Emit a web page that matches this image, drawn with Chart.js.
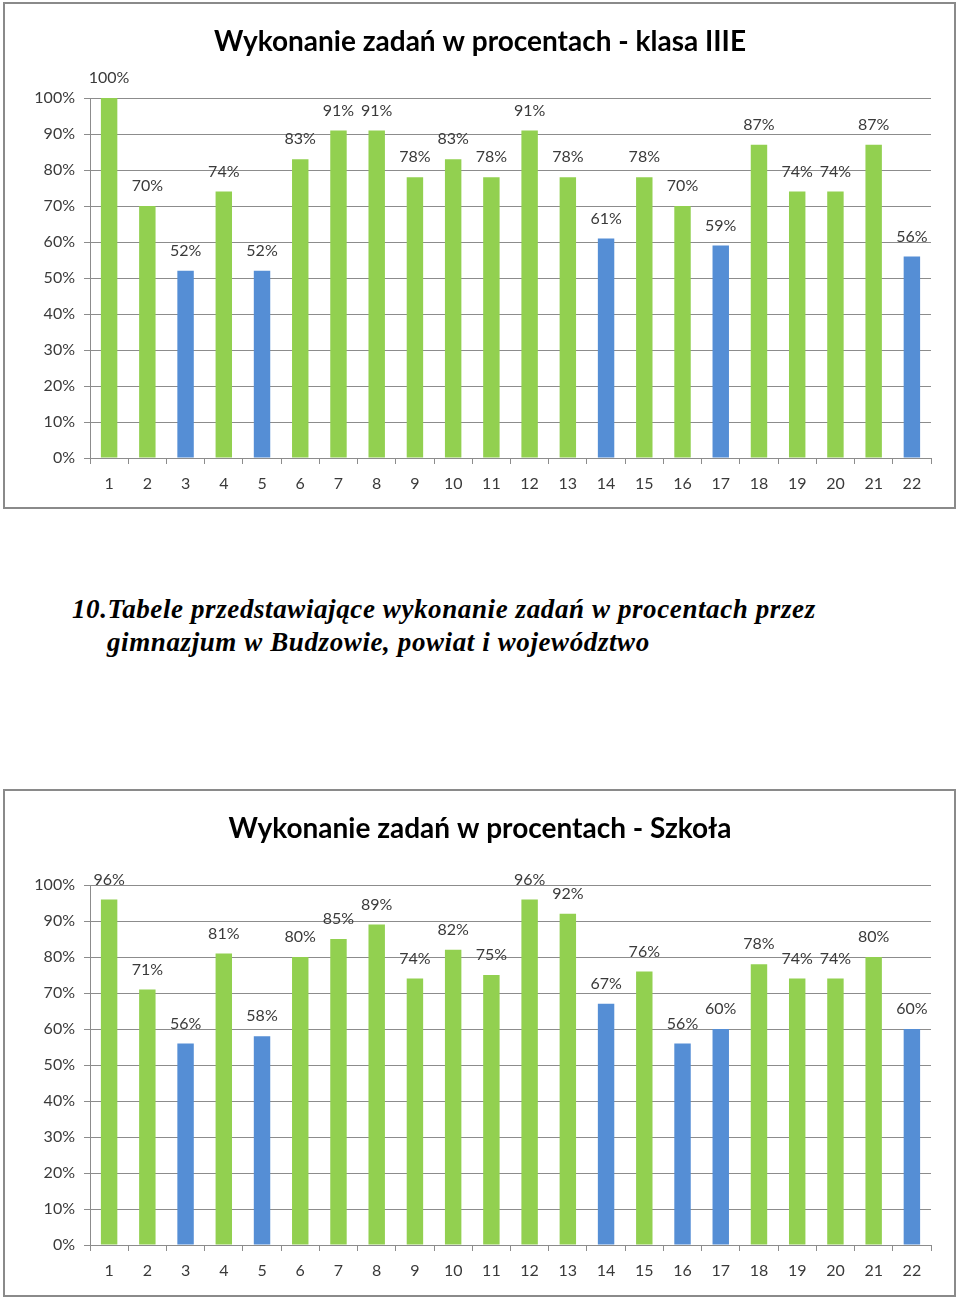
<!DOCTYPE html>
<html>
<head>
<meta charset="utf-8">
<script src="https://cdn.jsdelivr.net/npm/chart.js@4.4.1/dist/chart.umd.min.js"></script>
<style>
  html, body { margin: 0; padding: 0; background: #fff; width: 960px; height: 1297px; overflow: hidden; position: relative; }
  .box { position: absolute; box-sizing: border-box; border: 2px solid #8a8a8a; background: #fff; }
  canvas { position: absolute; left: 0; }
  .heading { position: absolute; left: 107px; top: 593px; width: 840px; font-family: "Liberation Serif", "Times New Roman", serif; font-weight: bold; font-style: italic; font-size: 27px; line-height: 33px; letter-spacing: 0.6px; color: #000; text-indent: -35px; white-space: nowrap; }
</style>
</head>
<body>
<div class="box" style="left:3px;top:2px;width:953px;height:507px;"></div>
<div class="box" style="left:3px;top:789px;width:953px;height:508px;"></div>
<canvas id="c1" width="960" height="510" style="top:0px;"></canvas>
<div class="heading">10.Tabele przedstawiające wykonanie zadań w procentach przez<br>gimnazjum w Budzowie, powiat i województwo</div>
<canvas id="c2" width="960" height="510" style="top:787px;"></canvas>
<script>
const categories = ["1","2","3","4","5","6","7","8","9","10","11","12","13","14","15","16","17","18","19","20","21","22"];
const valuesKlasa = [100,70,52,74,52,83,91,91,78,83,78,91,78,61,78,70,59,87,74,74,87,56];
const blueKlasa = [3,5,14,17,22];
const valuesSzkola = [96,71,56,81,58,80,85,89,74,82,75,96,92,67,76,56,60,78,74,74,80,60];
const blueSzkola = [3,5,14,16,17,22];
const yTicks = [0,10,20,30,40,50,60,70,80,90,100];
const titleKlasa = "Wykonanie zadań w procentach - klasa IIIE";
const titleSzkola = "Wykonanie zadań w procentach - Szkoła";

const GREEN = "#92D050";
const BLUE = "#558ED5";
const GRID = "#8c8c8c";
const TEXT = "#3a3a3a";
const FONT = "Lato, 'Open Sans', sans-serif";

const labelPlugin = {
  id: "barLabels",
  afterDatasetsDraw(chart) {
    const ctx = chart.ctx;
    const meta = chart.getDatasetMeta(0);
    const data = chart.data.datasets[0].data;
    ctx.save();
    ctx.font = "16px " + FONT;
    ctx.fillStyle = TEXT;
    ctx.textAlign = "center";
    ctx.textBaseline = "middle";
    meta.data.forEach((bar, i) => {
      ctx.fillText(data[i] + "%", bar.x, bar.y - 20);
    });
    ctx.restore();
  }
};

function makeChart(id, values, blues, title) {
  const colors = categories.map((c, i) => blues.includes(i + 1) ? BLUE : GREEN);
  return new Chart(document.getElementById(id), {
    type: "bar",
    data: {
      labels: categories,
      datasets: [{ data: values, backgroundColor: colors, borderWidth: 0, barPercentage: 0.43, categoryPercentage: 1.0 }]
    },
    plugins: [labelPlugin],
    options: {
      responsive: false,
      animation: false,
      devicePixelRatio: 1,
      layout: { padding: { left: 29, right: 29, top: 0, bottom: 0 } },
      plugins: {
        legend: { display: false },
        tooltip: { enabled: false },
        title: {
          display: true,
          text: title,
          color: "#000",
          font: { family: FONT, size: 28, weight: "bold" },
          padding: { top: 25, bottom: 39.4 }
        }
      },
      scales: {
        x: {
          offset: true,
          grid: { display: true, offset: true, drawOnChartArea: false, drawTicks: true, tickLength: 6, color: GRID },
          border: { display: true, color: GRID },
          ticks: { color: TEXT, font: { family: FONT, size: 16 }, padding: 10, maxRotation: 0, autoSkip: false },
          afterFit(scale) { scale.height = 52; }
        },
        y: {
          min: 0, max: 100,
          afterBuildTicks(scale) { scale.ticks = yTicks.map(v => ({ value: v })); },
          grid: { color: GRID, tickLength: 6, drawTicks: true },
          border: { display: true, color: GRID },
          ticks: { color: TEXT, font: { family: FONT, size: 16 }, padding: 9, callback: v => v + "%" },
          afterFit(scale) { scale.width = 61; }
        }
      }
    }
  });
}

makeChart("c1", valuesKlasa, blueKlasa, titleKlasa);
makeChart("c2", valuesSzkola, blueSzkola, titleSzkola);
</script>
</body>
</html>
